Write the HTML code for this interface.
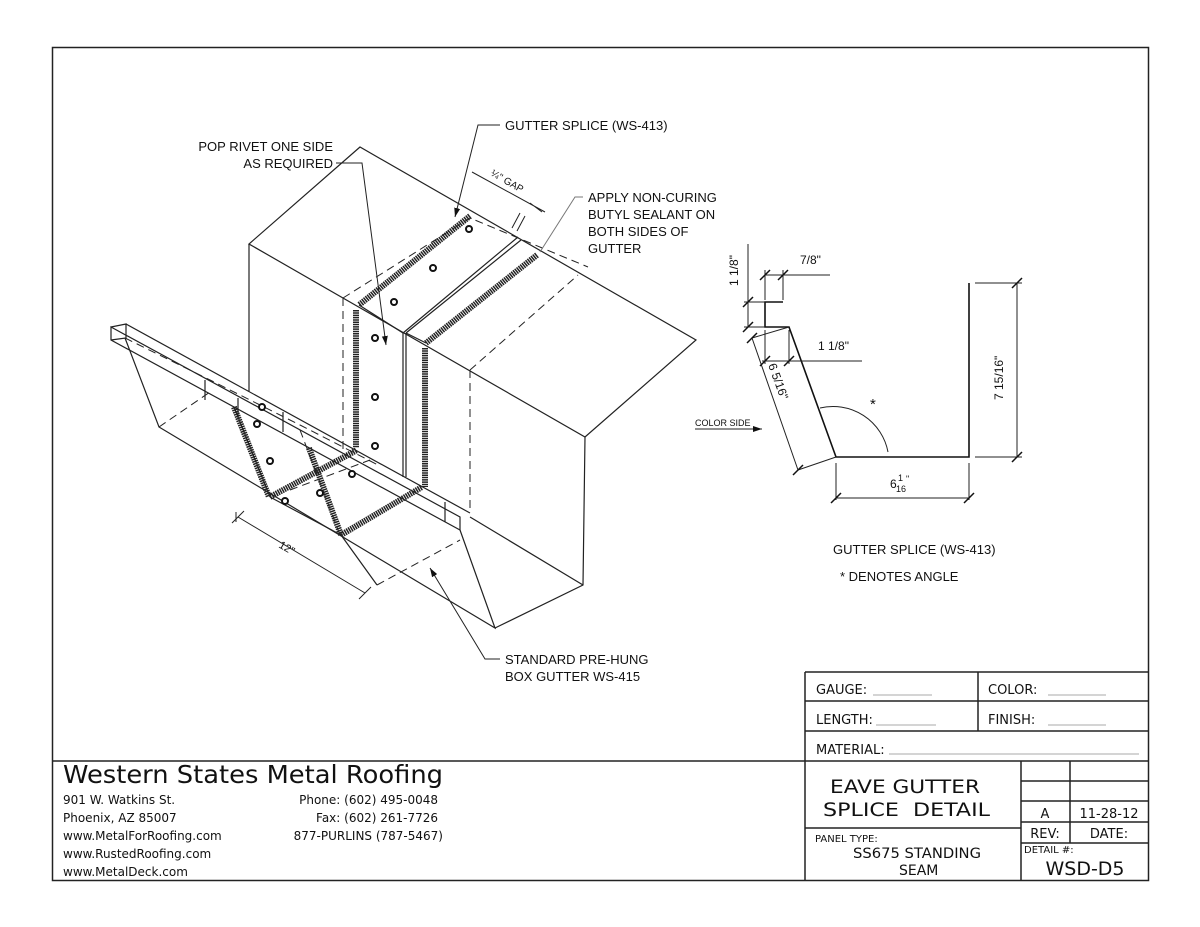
<!DOCTYPE html>
<html><head><meta charset="utf-8"><style>
html,body{margin:0;padding:0;background:#fff;}
svg{display:block;}
.t{font-family:"DejaVu Sans","Liberation Sans",sans-serif;fill:#111;}
.c{font-family:"Liberation Sans Narrow","Liberation Sans",sans-serif;fill:#111;}
</style></head><body>
<svg width="1200" height="927" viewBox="0 0 1200 927" xmlns="http://www.w3.org/2000/svg">
<defs>
<marker id="ar" markerWidth="10" markerHeight="8" refX="9" refY="4" orient="auto" markerUnits="userSpaceOnUse"><path d="M0,1 L9,4 L0,7 Z" fill="#111"/></marker>
</defs>
<rect x="52.5" y="47.5" width="1096" height="833" fill="none" stroke="#222" stroke-width="1.5"/>
<g stroke="#222" fill="none" stroke-width="1.2">
<path d="M360,147 L249,244 L585,437 L696,340 Z"/>
<path d="M249,244 L249,392"/>
<path d="M585,437 L583,585 L495,628"/>
<path d="M583,585 L470,517"/>
<path d="M111,327 L460,517 L460,530 L111,340 Z"/>
<path d="M111,327 L126,324 L126,338 L111,340"/>
<path d="M126,324 L470,513"/>
<path d="M125,338 L159,427 L495,628 L460,530"/>
<path d="M205,380 L205,400 M238,398 L238,418 M283,412 L283,432 M445,502 L445,522"/>
<path d="M403,333 L403,477 M406,333 L406,477"/>
<path d="M359,305 L403,333 M426,343 L406,333"/>
<path d="M403,333 L518,237 M406,333 L521,240"/>
<path d="M270,497 L341,535 L377,585"/>
<path d="M234,407 L270,497"/>
</g>
<g stroke="#222" fill="none" stroke-width="1" stroke-dasharray="8,5">
<path d="M343,298 L343,452"/>
<path d="M470,370 L470,513"/>
<path d="M343,298 L470,218 L588,267"/>
<path d="M470,370 L578,275"/>
<path d="M125,338 L210,380 L300,425 L380,466"/>
<path d="M159,427 L210,392"/>
<path d="M377,585 L460,540"/>
<path d="M300,430 L340,535"/>
<path d="M290,490 L370,460"/>
</g>
<g stroke="#222" fill="none" stroke-width="6" stroke-dasharray="1.5,0.8">
<path d="M470,216 L359,305"/>
<path d="M356,310 L356,448"/>
<path d="M537,255 L426,343"/>
<path d="M425,348 L425,487"/>
<path d="M234,407 L269,497"/>
<path d="M309,448 L341,535"/>
<path d="M270,497 L357,450"/>
<path d="M341,535 L422,487"/>
</g>
<g stroke="#111" stroke-width="2" fill="#fff">
<circle cx="469" cy="229" r="3"/><circle cx="433" cy="268" r="3"/><circle cx="394" cy="302" r="3"/>
<circle cx="375" cy="338" r="3"/><circle cx="375" cy="397" r="3"/><circle cx="375" cy="446" r="3"/>
<circle cx="262" cy="407" r="3"/><circle cx="257" cy="424" r="3"/><circle cx="270" cy="461" r="3"/>
<circle cx="285" cy="501" r="3"/><circle cx="320" cy="493" r="3"/><circle cx="352" cy="474" r="3"/>
</g>
<g stroke="#222" fill="none" stroke-width="1">
<path d="M500,125 L478,125 L455,217" marker-end="url(#ar)"/>
<path d="M336,163 L362,163 L386,345" marker-end="url(#ar)"/>
<path d="M583,197 L575,197 L540,252" stroke="#777"/>
<path d="M500,659 L485,659 L430,568" marker-end="url(#ar)"/>
<path d="M472,172 L545,212 M520,213 L512,228 M525,216 L517,231 M530,203 L542,212"/>
<path d="M238,517 L365,593 M232,523 L244,511 M359,599 L371,587 M236,512 L236,522"/>
</g>
<g class="c" font-size="13">
<text x="505" y="130">GUTTER SPLICE (WS-413)</text>
<text x="333" y="151" text-anchor="end">POP RIVET ONE SIDE</text>
<text x="333" y="168" text-anchor="end">AS REQUIRED</text>
<text x="588" y="202">APPLY NON-CURING</text>
<text x="588" y="219">BUTYL SEALANT ON</text>
<text x="588" y="236">BOTH SIDES OF</text>
<text x="588" y="253">GUTTER</text>
<text x="505" y="664">STANDARD PRE-HUNG</text>
<text x="505" y="681">BOX GUTTER WS-415</text>
<text x="490" y="175" font-size="10" transform="rotate(30 490 175)">¼" GAP</text>
<text x="278" y="547" font-size="11" transform="rotate(30 278 547)">12"</text>
</g>
<g stroke="#111" fill="none" stroke-width="1.6">
<path d="M783,302 L765,302 L765,327 L789,327 L836,457 L969,457 L969,283"/>
</g>
<g stroke="#222" fill="none" stroke-width="1">
<path d="M765,275 L830,275 M765,270 L765,300 M783,270 L783,300"/>
<path d="M748,244 L748,327 M744,302 L765,302 M744,327 L765,327"/>
<path d="M762,361 L862,361 M765,330 L765,364 M789,330 L789,364"/>
<path d="M752,338 L798,470 M798,470 L836,457 M752,338 L789,327"/>
<path d="M1017,283 L1017,457 M975,283 L1022,283 M975,457 L1022,457"/>
<path d="M836,463 L836,500 M969,463 L969,500 M836,498 L969,498"/>
<path d="M820,408 A56,56 0 0 1 888,452"/>
<path d="M695,429 L762,429" marker-end="url(#ar)"/>
</g>
<g stroke="#111" stroke-width="1.5">
<path d="M760,280 L770,270 M778,280 L788,270 M743,307 L753,297 M743,332 L753,322 M760,366 L770,356 M784,366 L794,356 M747,343 L757,333 M793,475 L803,465 M1012,288 L1022,278 M1012,462 L1022,452 M831,503 L841,493 M964,503 L974,493"/>
</g>
<g class="c" font-size="12">
<text x="800" y="264">7/8"</text>
<text x="738" y="286" transform="rotate(-90 738 286)">1 1/8"</text>
<text x="818" y="350">1 1/8"</text>
<text x="768" y="365" transform="rotate(70 768 365)">6 5/16"</text>
<text x="1003" y="400" transform="rotate(-90 1003 400)">7 15/16"</text>
<text x="890" y="488">6</text><text x="898" y="481" font-size="9">1</text><text x="896" y="492" font-size="9">16</text><text x="906" y="482" font-size="9">"</text>
<text x="870" y="409" font-size="15">*</text>
<text x="695" y="426" font-size="9">COLOR SIDE</text>
<text x="833" y="554" font-size="13">GUTTER SPLICE (WS-413)</text>
<text x="840" y="581" font-size="13">* DENOTES ANGLE</text>
</g>
<g stroke="#222" fill="none" stroke-width="1.5">
<path d="M52,761 L1149,761"/>
<path d="M805,672 L1149,672 M805,672 L805,880 M805,701 L1149,701 M805,731 L1149,731 M978,672 L978,731"/>
<path d="M1021,761 L1021,880 M1070,761 L1070,843 M1021,781 L1149,781 M1021,801 L1149,801 M1021,822 L1149,822 M1021,843 L1149,843 M805,828 L1021,828"/>
</g>
<g stroke="#aaa" stroke-width="1">
<path d="M873,695 L932,695 M1048,695 L1106,695 M876,725 L936,725 M1048,725 L1106,725 M889,754 L1139,754"/>
</g>
<g class="t">
<text x="816" y="694" font-size="13">GAUGE:</text>
<text x="988" y="694" font-size="13">COLOR:</text>
<text x="816" y="724" font-size="13">LENGTH:</text>
<text x="988" y="724" font-size="13">FINISH:</text>
<text x="816" y="754" font-size="13">MATERIAL:</text>
<text x="830" y="793" font-size="19" textLength="150" lengthAdjust="spacingAndGlyphs">EAVE GUTTER</text>
<text x="823" y="816" font-size="19" textLength="167" lengthAdjust="spacingAndGlyphs">SPLICE&#160; DETAIL</text>
<text x="1045" y="818" font-size="13" text-anchor="middle">A</text>
<text x="1109" y="818" font-size="13" text-anchor="middle">11-28-12</text>
<text x="1045" y="838" font-size="13" text-anchor="middle">REV:</text>
<text x="1109" y="838" font-size="13" text-anchor="middle">DATE:</text>
<text x="815" y="842" font-size="10">PANEL TYPE:</text>
<text x="853" y="858" font-size="14" textLength="128" lengthAdjust="spacingAndGlyphs">SS675 STANDING</text>
<text x="899" y="875" font-size="14">SEAM</text>
<text x="1024" y="853" font-size="10">DETAIL #:</text>
<text x="1085" y="875" font-size="19" text-anchor="middle">WSD-D5</text>
<text x="63" y="783" font-size="25" textLength="380" lengthAdjust="spacingAndGlyphs">Western States Metal Roofing</text>
<text x="63" y="804" font-size="12">901 W. Watkins St.</text>
<text x="63" y="822" font-size="12">Phoenix, AZ 85007</text>
<text x="63" y="840" font-size="12">www.MetalForRoofing.com</text>
<text x="63" y="858" font-size="12">www.RustedRoofing.com</text>
<text x="63" y="876" font-size="12">www.MetalDeck.com</text>
<text x="438" y="804" font-size="12" text-anchor="end">Phone: (602) 495-0048</text>
<text x="438" y="822" font-size="12" text-anchor="end">Fax: (602) 261-7726</text>
<text x="443" y="840" font-size="12" text-anchor="end">877-PURLINS (787-5467)</text>
</g>
</svg>
</body></html>
